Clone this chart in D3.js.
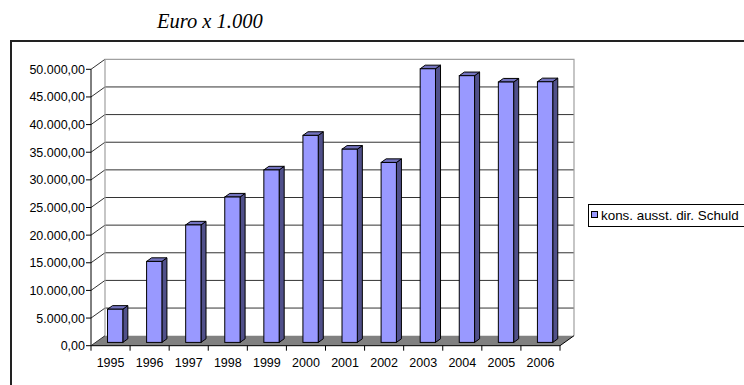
<!DOCTYPE html>
<html>
<head>
<meta charset="utf-8">
<script src="https://cdn.jsdelivr.net/npm/d3@7"></script>
<style>
  body { margin: 0; background: #fff; }
  text { font-family: "Liberation Sans", Arial, sans-serif; fill: #000; }
</style>
</head>
<body>
<div id="chart"></div>
<script>
var years = ["1995", "1996", "1997", "1998", "1999", "2000", "2001", "2002", "2003", "2004", "2005", "2006"];
var debt = [6000, 14650, 21250, 26300, 31200, 37450, 34950, 32550, 49500, 48250, 47100, 47150];
var yTicks = [0, 5000, 10000, 15000, 20000, 25000, 30000, 35000, 40000, 45000, 50000];
var seriesName = "kons. ausst. dir. Schuld";

var width = 744, height = 385;
var depth = {dx: 14, dy: -10};   // 3d offset of the back wall
var f0 = 0.33, f1 = 0.69;        // bar depth inside the floor

var svg = d3.select("#chart").append("svg")
    .attr("width", width)
    .attr("height", height);

// outer frame
svg.append("rect")
    .attr("x", 11).attr("y", 41)
    .attr("width", 800).attr("height", 400)
    .attr("fill", "none")
    .attr("stroke", "#222")
    .attr("stroke-width", 2);

svg.append("text")
    .attr("x", 157).attr("y", 28)
    .style("font-family", "'Liberation Serif', 'Times New Roman', serif")
    .style("font-style", "italic")
    .style("font-size", "20.5px")
    .text("Euro x 1.000");

var x = d3.scaleBand().domain(years).range([91, 560]);
var y = d3.scaleLinear().domain([0, 50000]).range([345.7, 69.3]);

var x0 = x.range()[0], x1 = x.range()[1];
var line = function(pts) { return "M" + pts.map(function(p) { return p.join(","); }).join("L"); };

// floor
svg.append("path")
    .attr("d", line([[x0, y(0)], [x1, y(0)], [x1 + depth.dx, y(0) + depth.dy], [x0 + depth.dx, y(0) + depth.dy]]) + "Z")
    .attr("fill", "#808080");

// back wall gridlines
var grid = svg.append("g");
grid.selectAll("line.h")
    .data(yTicks.filter(function(t) { return t > 0 && t < 50000; }))
    .join("line")
    .attr("x1", x0 + depth.dx).attr("x2", x1 + depth.dx)
    .attr("y1", function(d) { return y(d) + depth.dy; })
    .attr("y2", function(d) { return y(d) + depth.dy; })
    .attr("stroke", "#333");

grid.selectAll("line.d")
    .data(yTicks.filter(function(t) { return t > 0; }))
    .join("line")
    .attr("x1", x0).attr("x2", x0 + depth.dx)
    .attr("y1", function(d) { return y(d); })
    .attr("y2", function(d) { return y(d) + depth.dy; })
    .attr("stroke", "#333");

// wall outline (grey)
grid.append("path")
    .attr("d", line([[x0 + depth.dx, y(0) + depth.dy], [x0 + depth.dx, y(50000) + depth.dy],
                     [x1 + depth.dx, y(50000) + depth.dy], [x1 + depth.dx, y(0) + depth.dy]]))
    .attr("fill", "none")
    .attr("stroke", "#a0a0a0")
    .attr("stroke-width", 1.2);

// bars
var bw = 15.3;
var bars = svg.append("g").selectAll("g")
    .data(years.map(function(yr, i) { return {year: yr, value: debt[i]}; }))
    .join("g");

function barPts(d) {
  var left = x(d.year) + (x.bandwidth() - bw) / 2 + f0 * depth.dx;
  var right = left + bw;
  var base = y(0) + f0 * depth.dy;
  var top = y(d.value) + f0 * depth.dy;
  var ddx = (f1 - f0) * depth.dx, ddy = (f1 - f0) * depth.dy;
  return {left: left, right: right, base: base, top: top, ddx: ddx, ddy: ddy};
}

bars.append("path")
    .attr("d", function(d) {
      var p = barPts(d);
      return line([[p.right, p.base], [p.right, p.top], [p.right + p.ddx, p.top + p.ddy], [p.right + p.ddx, p.base + p.ddy]]) + "Z";
    })
    .attr("fill", "#50508a").attr("stroke", "#000").attr("stroke-width", 1);

bars.append("path")
    .attr("d", function(d) {
      var p = barPts(d);
      return line([[p.left, p.top], [p.right, p.top], [p.right + p.ddx, p.top + p.ddy], [p.left + p.ddx, p.top + p.ddy]]) + "Z";
    })
    .attr("fill", "#7373bf").attr("stroke", "#000").attr("stroke-width", 1);

bars.append("rect")
    .attr("x", function(d) { return barPts(d).left; })
    .attr("y", function(d) { return barPts(d).top; })
    .attr("width", bw)
    .attr("height", function(d) { var p = barPts(d); return p.base - p.top; })
    .attr("fill", "#9999ff").attr("stroke", "#000").attr("stroke-width", 1);

// x axis
var xAxis = svg.append("g");
xAxis.append("line")
    .attr("x1", x0).attr("x2", x1)
    .attr("y1", y(0)).attr("y2", y(0))
    .attr("stroke", "#000");
xAxis.append("line")
    .attr("x1", x1).attr("x2", x1 + depth.dx)
    .attr("y1", y(0)).attr("y2", y(0) + depth.dy)
    .attr("stroke", "#000");
xAxis.append("line")
    .attr("x1", x0).attr("x2", x0 + depth.dx)
    .attr("y1", y(0)).attr("y2", y(0) + depth.dy)
    .attr("stroke", "#333");
xAxis.selectAll("line.tick")
    .data(years.map(function(d) { return x(d); }).concat([x1]))
    .join("line")
    .attr("x1", function(d) { return d; }).attr("x2", function(d) { return d; })
    .attr("y1", y(0)).attr("y2", y(0) + 5)
    .attr("stroke", "#000");
xAxis.selectAll("text")
    .data(years)
    .join("text")
    .attr("x", function(d) { return x(d) + x.bandwidth() / 2; })
    .attr("y", 366.5)
    .attr("text-anchor", "middle")
    .style("font-size", "12.5px")
    .text(function(d) { return d; });

// y axis
var fmt = function(v) {
  return d3.format(",.2f")(v).replace(/,/g, "#").replace(".", ",").replace(/#/g, ".");
};
var yAxis = svg.append("g");
yAxis.append("line")
    .attr("x1", x0).attr("x2", x0)
    .attr("y1", y(0)).attr("y2", y(50000))
    .attr("stroke", "#000");
yAxis.selectAll("line.tick")
    .data(yTicks)
    .join("line")
    .attr("x1", x0 - 5).attr("x2", x0)
    .attr("y1", function(d) { return y(d); })
    .attr("y2", function(d) { return y(d); })
    .attr("stroke", "#000");
yAxis.selectAll("text")
    .data(yTicks)
    .join("text")
    .attr("x", 85)
    .attr("y", function(d) { return y(d) + 4.5; })
    .attr("text-anchor", "end")
    .style("font-size", "12.5px")
    .text(fmt);

// legend
var legend = svg.append("g");
legend.append("rect")
    .attr("x", 588.5).attr("y", 204.5)
    .attr("width", 200).attr("height", 22)
    .attr("fill", "#fff").attr("stroke", "#000");
legend.append("rect")
    .attr("x", 591.5).attr("y", 211.5)
    .attr("width", 6).attr("height", 6)
    .attr("fill", "#9999ff").attr("stroke", "#000");
legend.append("text")
    .attr("x", 601).attr("y", 219.5)
    .style("font-size", "13.4px")
    .text(seriesName);
</script>
</body>
</html>
